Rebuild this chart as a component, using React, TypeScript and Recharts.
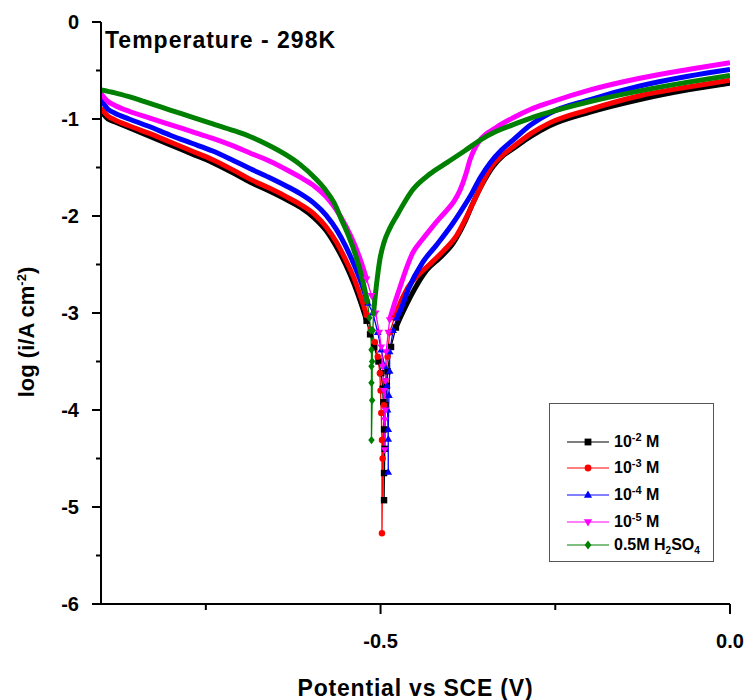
import React from "react";
import { LineChart, Line, XAxis, YAxis } from "recharts";

// potential (V vs SCE), log(i / A cm^-2)
// each curve split in cathodic branch, the drop at Ecorr (drawn with markers), anodic branch
const blackCath = [[-0.9,-0.92],[-0.89,-1.0],[-0.88,-1.03],[-0.86,-1.09],[-0.83,-1.18],[-0.8,-1.27],[-0.77,-1.36],[-0.74,-1.45],[-0.71,-1.56],[-0.687,-1.65],[-0.66,-1.74],[-0.635,-1.83],[-0.615,-1.91],[-0.595,-2.02],[-0.578,-2.15],[-0.563,-2.32],[-0.55,-2.5],[-0.538,-2.7],[-0.528,-2.9],[-0.52,-3.08]];
const blackDip = [[-0.52,-3.08],[-0.515,-3.22],[-0.509,-3.35],[-0.503,-3.5],[-0.499,-3.62],[-0.497,-3.78],[-0.496,-3.92],[-0.495,-4.2],[-0.495,-4.65],[-0.495,-4.93],[-0.494,-4.4],[-0.493,-3.95],[-0.491,-3.75],[-0.49,-3.6],[-0.485,-3.35],[-0.478,-3.15]];
const blackAnod = [[-0.478,-3.15],[-0.47,-3.02],[-0.462,-2.9],[-0.447,-2.7],[-0.434,-2.56],[-0.415,-2.43],[-0.396,-2.28],[-0.38,-2.07],[-0.368,-1.87],[-0.352,-1.64],[-0.339,-1.49],[-0.325,-1.38],[-0.311,-1.31],[-0.285,-1.18],[-0.258,-1.07],[-0.2,-0.93],[-0.129,-0.8],[-0.06,-0.7],[0,-0.63]];

const redCath = [[-0.9,-0.89],[-0.89,-0.97],[-0.88,-1.01],[-0.86,-1.07],[-0.83,-1.15],[-0.8,-1.24],[-0.77,-1.33],[-0.74,-1.42],[-0.71,-1.53],[-0.687,-1.62],[-0.66,-1.71],[-0.635,-1.8],[-0.615,-1.88],[-0.595,-1.98],[-0.578,-2.11],[-0.563,-2.27],[-0.55,-2.45],[-0.538,-2.64],[-0.528,-2.84],[-0.52,-3.02]];
const redDip = [[-0.52,-3.02],[-0.514,-3.17],[-0.508,-3.3],[-0.504,-3.45],[-0.501,-3.62],[-0.5,-3.8],[-0.499,-4.03],[-0.498,-4.31],[-0.498,-5.27],[-0.497,-4.5],[-0.495,-3.95],[-0.493,-3.7],[-0.49,-3.45],[-0.487,-3.2],[-0.48,-3.05]];
const redAnod = [[-0.48,-3.05],[-0.475,-2.95],[-0.462,-2.75],[-0.445,-2.6],[-0.43,-2.5],[-0.41,-2.36],[-0.391,-2.2],[-0.375,-1.98],[-0.362,-1.78],[-0.35,-1.6],[-0.339,-1.47],[-0.325,-1.37],[-0.311,-1.29],[-0.285,-1.15],[-0.258,-1.04],[-0.2,-0.9],[-0.129,-0.76],[-0.06,-0.67],[0,-0.6]];

const blueCath = [[-0.9,-0.8],[-0.89,-0.9],[-0.88,-0.94],[-0.86,-1.0],[-0.83,-1.08],[-0.8,-1.17],[-0.77,-1.25],[-0.74,-1.33],[-0.71,-1.43],[-0.687,-1.51],[-0.66,-1.6],[-0.635,-1.69],[-0.615,-1.77],[-0.595,-1.87],[-0.578,-1.99],[-0.563,-2.14],[-0.55,-2.31],[-0.538,-2.5],[-0.527,-2.7],[-0.518,-2.9]];
const blueDip = [[-0.518,-2.9],[-0.511,-3.0],[-0.504,-3.2],[-0.499,-3.38],[-0.494,-3.55],[-0.491,-3.75],[-0.49,-4.0],[-0.489,-4.3],[-0.489,-4.64],[-0.489,-4.2],[-0.488,-3.85],[-0.487,-3.6],[-0.487,-3.4],[-0.482,-3.18],[-0.477,-3.05]];
const blueAnod = [[-0.477,-3.05],[-0.472,-2.98],[-0.46,-2.75],[-0.44,-2.48],[-0.42,-2.3],[-0.396,-2.07],[-0.385,-1.95],[-0.372,-1.8],[-0.357,-1.6],[-0.343,-1.45],[-0.327,-1.32],[-0.311,-1.22],[-0.285,-1.06],[-0.258,-0.94],[-0.2,-0.8],[-0.129,-0.66],[-0.06,-0.56],[0,-0.49]];

const magentaCath = [[-0.9,-0.74],[-0.89,-0.82],[-0.88,-0.86],[-0.86,-0.92],[-0.83,-0.99],[-0.8,-1.06],[-0.77,-1.13],[-0.74,-1.2],[-0.71,-1.28],[-0.687,-1.35],[-0.66,-1.43],[-0.635,-1.52],[-0.615,-1.6],[-0.595,-1.69],[-0.578,-1.8],[-0.563,-1.94],[-0.55,-2.1],[-0.538,-2.28],[-0.528,-2.47],[-0.52,-2.65]];
const magentaDip = [[-0.52,-2.65],[-0.513,-2.82],[-0.507,-3.0],[-0.502,-3.2],[-0.499,-3.35],[-0.497,-3.55],[-0.495,-3.8],[-0.494,-4.1],[-0.494,-4.41],[-0.493,-4.0],[-0.493,-3.7],[-0.492,-3.4],[-0.489,-3.2],[-0.487,-3.07]];
const magentaAnod = [[-0.487,-3.07],[-0.479,-2.88],[-0.472,-2.73],[-0.462,-2.52],[-0.454,-2.38],[-0.44,-2.24],[-0.429,-2.14],[-0.415,-2.02],[-0.405,-1.94],[-0.395,-1.85],[-0.386,-1.73],[-0.378,-1.57],[-0.372,-1.42],[-0.365,-1.3],[-0.358,-1.22],[-0.335,-1.09],[-0.311,-0.99],[-0.285,-0.9],[-0.258,-0.83],[-0.2,-0.7],[-0.129,-0.58],[-0.06,-0.49],[0,-0.42]];

const greenCath = [[-0.9,-0.7],[-0.88,-0.73],[-0.86,-0.77],[-0.83,-0.84],[-0.8,-0.91],[-0.77,-0.98],[-0.74,-1.05],[-0.71,-1.12],[-0.687,-1.18],[-0.66,-1.27],[-0.635,-1.37],[-0.615,-1.47],[-0.595,-1.6],[-0.58,-1.72],[-0.566,-1.87],[-0.557,-2.02],[-0.546,-2.2],[-0.535,-2.42],[-0.526,-2.65],[-0.519,-2.88]];
const greenDip = [[-0.519,-2.88],[-0.516,-3.05],[-0.514,-3.18],[-0.513,-3.38],[-0.513,-3.55],[-0.513,-3.72],[-0.513,-4.31],[-0.512,-3.9],[-0.512,-3.5],[-0.511,-3.18],[-0.51,-3.0]];
const greenAnod = [[-0.51,-3.0],[-0.508,-2.85],[-0.506,-2.72],[-0.501,-2.45],[-0.495,-2.27],[-0.487,-2.13],[-0.477,-2.0],[-0.465,-1.85],[-0.454,-1.73],[-0.43,-1.57],[-0.405,-1.45],[-0.38,-1.33],[-0.358,-1.22],[-0.335,-1.13],[-0.311,-1.06],[-0.285,-0.99],[-0.258,-0.93],[-0.2,-0.82],[-0.129,-0.71],[-0.06,-0.62],[0,-0.55]];

const xTicks = [-0.75, -0.5, -0.25, 0];
const yTicks = [-6, -5.5, -5, -4.5, -4, -3.5, -3, -2.5, -2, -1.5, -1, -0.5, 0];

const pts = (a: number[][]) => a.map(([e, i]) => ({ e, i }));

const series = [
  { key: "k", color: "#000000", shape: "square", cath: blackCath, dip: blackDip, anod: blackAnod },
  { key: "r", color: "#ff0000", shape: "circle", cath: redCath, dip: redDip, anod: redAnod },
  { key: "b", color: "#0000ff", shape: "up", cath: blueCath, dip: blueDip, anod: blueAnod },
  { key: "m", color: "#ff00ff", shape: "down", cath: magentaCath, dip: magentaDip, anod: magentaAnod },
  { key: "g", color: "#008000", shape: "diamond", cath: greenCath, dip: greenDip, anod: greenAnod },
];

const subStyle = { fontSize: 10, lineHeight: 0 };
const supStyle = { fontSize: 11, lineHeight: 0 };
const legendRows = [
  { key: "k", label: <>10<sup style={supStyle}>-2</sup> M</> },
  { key: "r", label: <>10<sup style={supStyle}>-3</sup> M</> },
  { key: "b", label: <>10<sup style={supStyle}>-4</sup> M</> },
  { key: "m", label: <>10<sup style={supStyle}>-5</sup> M</> },
  { key: "g", label: <>0.5M H<sub style={subStyle}>2</sub>SO<sub style={subStyle}>4</sub></> },
];
const legendY = [38, 64, 91, 118, 141];

const FONT = 'Arial, "Liberation Sans", sans-serif';

function Marker({ shape, cx, cy, color, s = 3.2 }: any) {
  if (cx == null || cy == null || isNaN(cx) || isNaN(cy)) return <g />;
  switch (shape) {
    case "square":
      return <rect x={cx - s} y={cy - s} width={2 * s} height={2 * s} fill={color} />;
    case "circle":
      return <circle cx={cx} cy={cy} r={s} fill={color} />;
    case "up":
      return <polygon points={`${cx},${cy - s * 1.3} ${cx + s * 1.2},${cy + s * 0.8} ${cx - s * 1.2},${cy + s * 0.8}`} fill={color} />;
    case "down":
      return <polygon points={`${cx},${cy + s * 1.3} ${cx + s * 1.2},${cy - s * 0.8} ${cx - s * 1.2},${cy - s * 0.8}`} fill={color} />;
    default:
      return <polygon points={`${cx},${cy - s * 1.3} ${cx + s},${cy} ${cx},${cy + s * 1.3} ${cx - s},${cy}`} fill={color} />;
  }
}

const XTick = ({ x, y, payload }: any) => {
  const v = payload.value;
  const major = Math.abs(v * 2 - Math.round(v * 2)) < 1e-6;
  return (
    <g>
      <line x1={x} y1={y} x2={x} y2={y + (major ? 10 : 6)} stroke="#000" strokeWidth={2} />
      {major && (
        <text x={x} y={y + 44} textAnchor="middle" fontSize={20} fontWeight="bold" fontFamily={FONT} fill="#000">
          {v === 0 ? "0.0" : v.toFixed(1)}
        </text>
      )}
    </g>
  );
};

const YTick = ({ x, y, payload }: any) => {
  const v = payload.value;
  const major = Number.isInteger(v);
  return (
    <g>
      <line x1={x} y1={y} x2={x - (major ? 9 : 5)} y2={y} stroke="#000" strokeWidth={2} />
      {major && (
        <text x={x - 22} y={y} dy="0.36em" textAnchor="end" fontSize={20} fontWeight="bold" fontFamily={FONT} fill="#000">
          {v}
        </text>
      )}
    </g>
  );
};

export default function App() {
  return (
    <div style={{ position: "absolute", left: 0, top: 0, width: 747, height: 700, background: "#fff", fontFamily: FONT }}>
      <LineChart width={747} height={700} margin={{ top: 22, right: 17, bottom: 0, left: 0 }}>
        <XAxis
          type="number"
          dataKey="e"
          domain={[-0.9, 0]}
          ticks={xTicks}
          allowDataOverflow
          height={96}
          tickSize={0}
          tickMargin={0}
          tickLine={false}
          tick={<XTick />}
          axisLine={{ stroke: "#000", strokeWidth: 2 }}
        />
        <XAxis xAxisId="top" orientation="top" type="number" domain={[-0.9, 0]} height={0} tick={false} tickLine={false} axisLine={{ stroke: "#000", strokeWidth: 2 }} />
        <YAxis
          type="number"
          dataKey="i"
          domain={[-6, 0]}
          ticks={yTicks}
          allowDataOverflow
          width={101}
          tickSize={0}
          tickMargin={0}
          tickLine={false}
          tick={<YTick />}
          axisLine={{ stroke: "#000", strokeWidth: 2 }}
        />
        <YAxis yAxisId="right" orientation="right" type="number" domain={[-6, 0]} width={0} tick={false} tickLine={false} axisLine={{ stroke: "#000", strokeWidth: 2 }} />
        {series.map((s) => [
          <Line
            key={s.key + "c"}
            data={pts(s.cath)}
            dataKey="i"
            type="monotoneX"
            stroke={s.color}
            strokeWidth={5}
            dot={false}
            isAnimationActive={false}
          />,
          <Line
            key={s.key + "d"}
            data={pts(s.dip)}
            dataKey="i"
            type="linear"
            stroke={s.color}
            strokeWidth={1.3}
            dot={(p: any) => <Marker key={s.key + "dot" + p.index} shape={s.shape} cx={p.cx} cy={p.cy} color={s.color} />}
            isAnimationActive={false}
          />,
          <Line
            key={s.key + "a"}
            data={pts(s.anod)}
            dataKey="i"
            type="monotoneX"
            stroke={s.color}
            strokeWidth={5}
            dot={false}
            isAnimationActive={false}
          />,
        ])}
      </LineChart>

      <div style={{ position: "absolute", left: 105, top: 27, fontSize: 23, fontWeight: "bold", lineHeight: "26px", letterSpacing: 1 }}>
        Temperature - 298K
      </div>

      <div
        style={{
          position: "absolute",
          left: 27,
          top: 332,
          transform: "translate(-50%, -50%) rotate(-90deg)",
          whiteSpace: "nowrap",
          fontSize: 22,
          fontWeight: "bold",
          lineHeight: "24px",
        }}
      >
        log (i/A cm<sup style={{ fontSize: 13, lineHeight: 0 }}>-2</sup>)
      </div>

      <div style={{ position: "absolute", left: 101, width: 629, top: 675, textAlign: "center", fontSize: 23, fontWeight: "bold", lineHeight: "26px", letterSpacing: 0.8 }}>
        Potential vs SCE (V)
      </div>

      <div style={{ position: "absolute", left: 549, top: 403, width: 163, height: 157, border: "1px solid #555", background: "#fff" }}>
        {legendRows.map((row, idx) => {
          const s = series.find((q) => q.key === row.key)!;
          return (
            <div key={row.key} style={{ position: "absolute", left: 16, top: legendY[idx] - 11, height: 22, display: "flex", alignItems: "center", whiteSpace: "nowrap" }}>
              <svg width={44} height={14} style={{ display: "block" }}>
                <line x1={1} y1={7} x2={43} y2={7} stroke={s.color} strokeWidth={1.2} />
                <Marker shape={s.shape} cx={22} cy={7} color={s.color} s={3.4} />
              </svg>
              <span style={{ marginLeft: 4, fontSize: 16, fontWeight: "bold", lineHeight: "22px" }}>{row.label}</span>
            </div>
          );
        })}
      </div>
    </div>
  );
}
